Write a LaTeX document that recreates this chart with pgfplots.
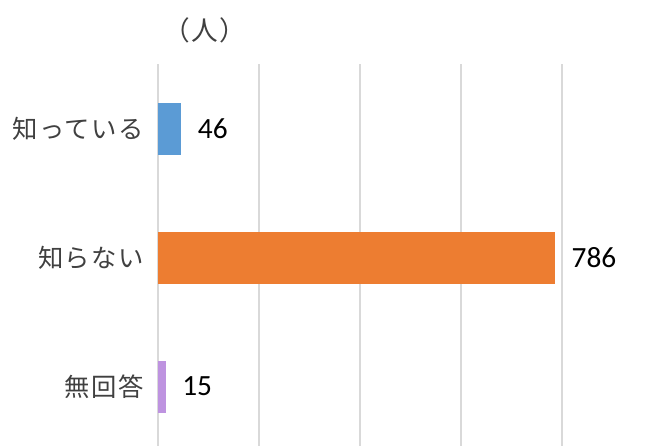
\documentclass[border=0pt]{standalone}
\usepackage{fontspec}
\setmainfont{Carlito}
\newfontfamily\cjk[LetterSpace=6]{Noto Sans CJK JP}
\usepackage{pgfplots}
\pgfplotsset{compat=1.18}
\definecolor{cblue}{HTML}{5B9BD5}
\definecolor{corange}{HTML}{ED7D31}
\definecolor{cpurple}{HTML}{BE93E0}
\definecolor{cgrid}{HTML}{D9D9D9}
\definecolor{clabel}{HTML}{404040}
\begin{document}
\begin{tikzpicture}
\begin{axis}[
  at={(0,0)}, anchor=south west,
  scale only axis, width=303pt, height=286.5pt,
  xbar, bar width=0.403, bar shift=0pt,
  xmin=0, xmax=800, ymin=-0.5, ymax=2.46,
  y dir=reverse,
  axis line style={draw=none},
  xtick={0,200,...,800}, xticklabels={},
  xmajorgrids, grid style={cgrid, line width=1pt},
  major tick length=0pt,
  ytick={0,1,2},
  yticklabels={知っている,知らない,無回答},
  yticklabel style={font=\cjk\fontsize{19}{21}\selectfont, text=clabel, xshift=-7pt},
  nodes near coords,
  nodes near coords style={font=\fontsize{22}{24}\selectfont, text=black, xshift=9pt, /pgf/number format/assume math mode=true},
  /pgf/number format/assume math mode=true,
  point meta=x,
  clip=false,
]
\addplot[fill=cblue, draw=none] coordinates {(46,0)};
\addplot[fill=corange, draw=none] coordinates {(786,1)};
\addplot[fill=cpurple, draw=none] coordinates {(15,2)};
\node[font=\cjk\fontsize{20}{22}\selectfont, text=clabel] at ([yshift=25pt]rel axis cs:0.116,1) {（人）};
\end{axis}
\pgfresetboundingbox
\path (-118.5pt,0pt) rectangle (375.75pt,334.5pt);
\end{tikzpicture}
\end{document}
